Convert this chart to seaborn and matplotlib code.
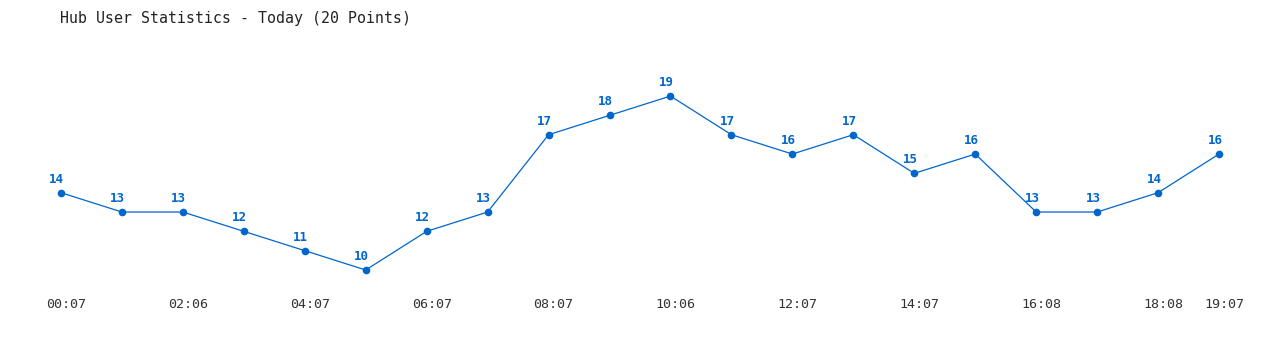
import matplotlib
matplotlib.use("Agg")
import matplotlib.pyplot as plt
import matplotlib.transforms as mtransforms
import seaborn as sns
import pandas as pd

times = ["00:07", "01:07", "02:06", "03:07", "04:07", "05:07", "06:07", "07:07",
         "08:07", "09:07", "10:06", "11:07", "12:07", "13:07", "14:07", "15:07",
         "16:08", "17:08", "18:08", "19:07"]
users = [14, 13, 13, 12, 11, 10, 12, 13, 17, 18, 19, 17, 16, 17, 15, 16, 13, 13, 14, 16]
label_idx = [0, 2, 4, 6, 8, 10, 12, 14, 16, 18, 19]

df = pd.DataFrame({"i": range(len(users)), "users": users})

sns.set_theme(style="white")
plt.rcParams["font.family"] = ["DejaVu Sans Mono", "DejaVu Sans"]

fig = plt.figure(figsize=(12.8, 3.5), dpi=100)
ax = fig.add_axes([0, 60 / 350, 1, 290 / 350])
color = "#0066cc"
sns.lineplot(data=df, x="i", y="users", ax=ax, color=color, linewidth=0.9,
             marker="o", markersize=5.5, markeredgewidth=0, markerfacecolor=color)

ax.set_xlim(-1.0, 20.0)
ax.set_ylim(8.965, 23.97)
for s in ax.spines.values():
    s.set_visible(False)
ax.set_xlabel("")
ax.set_ylabel("")
ax.set_yticks([])
ax.set_xticks(label_idx)
ax.set_xticklabels([times[k] for k in label_idx], fontsize=9.6, color="#333333")
ax.tick_params(axis="x", length=0, pad=6)
offset = mtransforms.ScaledTranslation(5 / 100, 0, fig.dpi_scale_trans)
for lab in ax.get_xticklabels():
    lab.set_transform(lab.get_transform() + offset)

for k, v in enumerate(users):
    ax.annotate(str(v), (k, v), xytext=(-3, 5), textcoords="offset points",
                ha="center", va="bottom", fontsize=9, fontweight="bold", color=color)

fig.text(60 / 1280, 1 - 18 / 350, "Hub User Statistics - Today (20 Points)",
         fontsize=10.7, color="#222222", ha="left", va="center")

fig.savefig("out.png", dpi=100, facecolor="white")
